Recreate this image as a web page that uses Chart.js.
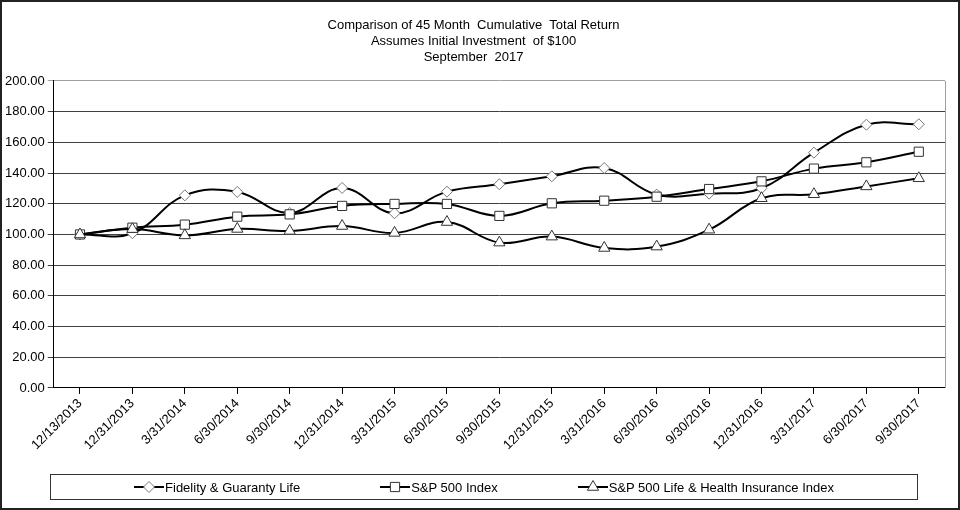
<!DOCTYPE html>
<html>
<head>
<meta charset="utf-8">
<script src="https://cdn.jsdelivr.net/npm/chart.js@4.4.0/dist/chart.umd.min.js"></script>
<style>
  html, body { margin: 0; padding: 0; background: #fff; }
  #wrap { width: 960px; height: 510px; box-sizing: border-box; border: 2px solid #222; position: relative; }
  canvas { display: block; }
  #legend {
    position: absolute; left: 48px; top: 472px; width: 868px; height: 26px;
    box-sizing: border-box; border: 1px solid #333;
    display: flex; justify-content: center; align-items: center; gap: 80px;
    font: 13px "Liberation Sans", Arial, sans-serif; color: #000;
  }
  .item { display: flex; align-items: center; gap: 1px; white-space: nowrap; }
</style>
</head>
<body>
<div id="wrap">
  <canvas id="chart" width="956" height="506"></canvas>
  <div id="legend"></div>
</div>
<script>
const dates = [
  "12/13/2013","12/31/2013","3/31/2014","6/30/2014","9/30/2014",
  "12/31/2014","3/31/2015","6/30/2015","9/30/2015","12/31/2015",
  "3/31/2016","6/30/2016","9/30/2016","12/31/2016","3/31/2017",
  "6/30/2017","9/30/2017"
];
const seriesNames = ["Fidelity & Guaranty Life", "S&P 500 Index", "S&P 500 Life & Health Insurance Index"];
const fidelity   = [100, 100.8, 125.5, 127.7, 114.0, 130.3, 113.8, 127.9, 132.7, 137.9, 143.3, 126.0, 126.6, 130.1, 153.3, 171.5, 171.8];
const sp500      = [100, 104.4, 106.4, 111.6, 113.1, 118.6, 119.9, 119.9, 112.1, 120.3, 122.0, 124.6, 129.6, 134.6, 142.9, 147.0, 153.9];
const lifeHealth = [100, 103.5, 99.4, 103.6, 102.3, 105.5, 101.0, 108.1, 94.7, 98.6, 91.2, 92.1, 103.1, 123.6, 126.2, 131.3, 136.6];
const titleLines = ["Comparison of 45 Month  Cumulative  Total Return", "Assumes Initial Investment  of $100", "September  2017"];
const yMin = 0, yMax = 200, yStep = 20;

const FONT = '"Liberation Sans", Arial, sans-serif';
const styles = ["rectRot", "rect", "triangle"];
const borders = ["#777", "#333", "#333"];
const radii = [5.5, 6.5, 6.5];

// legend symbol: short black line with the marker in the middle
function symbol(i) {
  const c = document.createElement("canvas");
  c.width = 30; c.height = 16;
  const g = c.getContext("2d");
  g.strokeStyle = "#000"; g.lineWidth = 2;
  g.beginPath(); g.moveTo(0, 8); g.lineTo(30, 8); g.stroke();
  g.fillStyle = "#fff"; g.strokeStyle = borders[i]; g.lineWidth = 1;
  Chart.helpers.drawPoint(g, { pointStyle: styles[i], radius: radii[i], borderWidth: 1, rotation: 0 }, 15, 8);
  return c;
}

const legend = document.getElementById("legend");
seriesNames.forEach((name, i) => {
  const it = document.createElement("div");
  it.className = "item";
  it.appendChild(symbol(i));
  const t = document.createElement("span");
  t.textContent = name;
  it.appendChild(t);
  legend.appendChild(it);
});

const frame = {
  id: "frame",
  afterDraw(chart) {
    const { ctx, chartArea: a } = chart;
    ctx.save();
    ctx.strokeStyle = "#a0a0a0"; ctx.lineWidth = 1;
    ctx.beginPath();
    ctx.moveTo(Math.round(a.right) + 0.5, a.top);
    ctx.lineTo(Math.round(a.right) + 0.5, a.bottom);
    ctx.stroke();
    ctx.restore();
  }
};

function ds(label, data, i, order) {
  return {
    label, data, order,
    borderColor: "#000", borderWidth: 2, tension: 0.4,
    pointStyle: styles[i], pointRadius: radii[i], pointHoverRadius: radii[i],
    pointBackgroundColor: "#fff", pointBorderColor: borders[i], pointBorderWidth: 1
  };
}

new Chart(document.getElementById("chart"), {
  type: "line",
  data: {
    labels: dates,
    datasets: [
      ds(seriesNames[0], fidelity, 0, 3),
      ds(seriesNames[1], sp500, 1, 2),
      ds(seriesNames[2], lifeHealth, 2, 1)
    ]
  },
  plugins: [frame],
  options: {
    responsive: false,
    animation: false,
    layout: { padding: { top: 4, left: 0, right: 13, bottom: 53 } },
    plugins: {
      legend: { display: false },
      tooltip: { enabled: false },
      title: {
        display: true, text: titleLines, color: "#000",
        font: { family: FONT, size: 13, weight: "normal", lineHeight: 1.23 },
        padding: { top: 11, bottom: 16 }
      }
    },
    scales: {
      x: {
        offset: true,
        grid: { display: true, drawOnChartArea: false, offset: false, color: "#000", tickLength: 6 },
        border: { color: "#000" },
        ticks: { color: "#000", font: { family: FONT, size: 13 }, maxRotation: 45, minRotation: 45, autoSkip: false, padding: 2 }
      },
      y: {
        min: yMin, max: yMax,
        grid: { color: c => c.tick && c.tick.value === yMax ? "#a0a0a0" : "#404040", tickLength: 6 },
        border: { color: "#000" },
        ticks: { stepSize: yStep, color: "#000", font: { family: FONT, size: 13 }, padding: 3, callback: v => v.toFixed(2) }
      }
    }
  }
});
</script>
</body>
</html>
